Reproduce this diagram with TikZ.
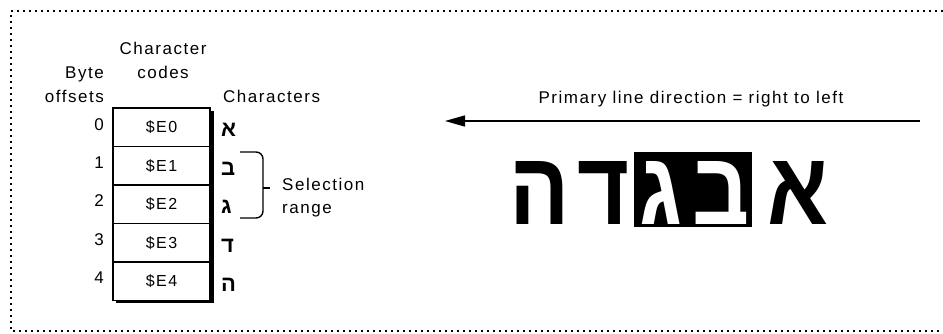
\documentclass[tikz,border=0pt]{standalone}
\usepackage{fontspec}
\setmainfont{Liberation Sans}
\newfontfamily\labelfont[LetterSpace=9]{Liberation Sans}
\newfontfamily\hebfont[Script=Hebrew]{Liberation Sans}
\TeXXeTstate=1
\usetikzlibrary{arrows.meta}
\newcommand{\bigletter}[1]{\scalebox{0.86}[1]{\beginR #1\endR}}
\begin{document}
\begin{tikzpicture}[x=1pt,y=-1pt,
  txt/.style={font=\labelfont\fontsize{17}{17}\selectfont, inner sep=0pt, anchor=mid},
  cell/.style={draw, line width=1.6pt, fill=white, minimum width=97pt, minimum height=38.4pt, inner sep=0pt, font=\labelfont\fontsize{16}{16}\selectfont},
  smallheb/.style={font=\hebfont\bfseries\fontsize{22}{22}\selectfont, inner sep=0pt, anchor=base west},
  bigheb/.style={font=\hebfont\bfseries\fontsize{104}{104}\selectfont, inner sep=0pt, anchor=base},
  frame/.style={line width=1.6pt, dash pattern=on 2pt off 4pt}]
\useasboundingbox (0,0) rectangle (943,334);
% dotted frame
\coordinate (ftl) at (11,11);
\coordinate (ftr) at (943,11);
\coordinate (fbl) at (11,331);
\coordinate (fbr) at (943,331);
\draw[frame] (ftr) -- (ftl) -- (fbl) -- (fbr);
% headings
\node[txt] (ch1) at (163,52) {Character};
\node[txt] (ch2) at (163,76) {codes};
\node[txt, anchor=mid east] (bo1) at (104,76) {Byte};
\node[txt, anchor=mid east] (bo2) at (104,100) {offsets};
\node[txt, anchor=mid west] (chs) at (223,100) {Characters};
% table shadow
\fill (116,111) rectangle (213.5,303);
% cells
\node[cell] (c0) at (161.5,127.5) {\$E0};
\node[cell] (c1) at (161.5,165.9) {\$E1};
\node[cell] (c2) at (161.5,204.3) {\$E2};
\node[cell] (c3) at (161.5,242.7) {\$E3};
\node[cell] (c4) at (161.5,281.1) {\$E4};
% offsets
\foreach \i/\y in {0/127.5,1/165.9,2/204.3,3/242.7,4/281.1}
  \node[txt, anchor=mid east] (o\i) at (104,\y) {\i};
% small characters
\node[smallheb] (s0) at (221,137) {\beginR א\endR};
\node[smallheb] (s1) at (221,176) {\beginR ב\endR};
\node[smallheb] (s2) at (221,213) {\beginR ג\endR};
\node[smallheb] (s3) at (221,252) {\beginR ד\endR};
\node[smallheb] (s4) at (221,291) {\beginR ה\endR};
% brace
\draw[line width=1.4pt, rounded corners=7pt] (240,152) -- (263,152) -- (263,188) -- (263,218) -- (240,218);
\draw[line width=1.4pt] (263,188) -- (270,188);
\node[txt, anchor=mid west] (sel1) at (282,188) {Selection};
\node[txt, anchor=mid west] (sel2) at (282,211) {range};
% direction arrow
\coordinate (aR) at (920,121);
\coordinate (aL) at (445,121);
\draw[line width=1.5pt, -{Triangle[length=20pt,width=11pt]}] (aR) -- (aL);
\node[txt] (dir) at (691,101) {Primary line direction = right to left};
% big hebrew
\fill (634,152) rectangle (752,227);
\node[bigheb] (he) at (540,225) {\bigletter{ה}};
\node[bigheb] (da) at (604,225) {\bigletter{ד}};
\node[bigheb, text=white] (gi) at (661,225) {\bigletter{ג}};
\node[bigheb, text=white] (be) at (721,225) {\bigletter{ב}};
\node[bigheb] (al) at (798,225) {\bigletter{א}};
\end{tikzpicture}
\end{document}
